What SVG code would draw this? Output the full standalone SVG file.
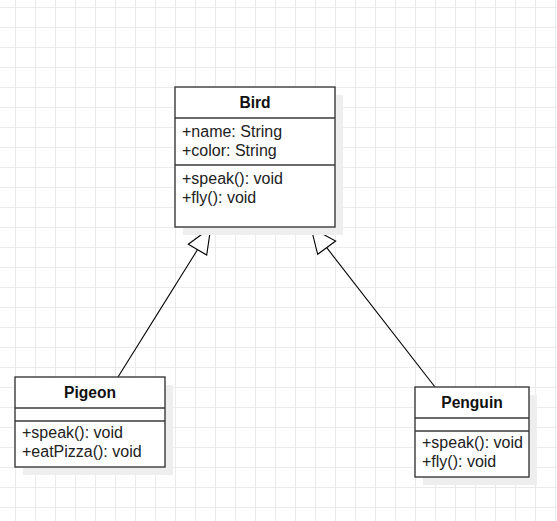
<svg xmlns="http://www.w3.org/2000/svg" width="557" height="521" viewBox="0 0 557 521">
<defs>
<pattern id="grid" x="15" y="7" width="20" height="20" patternUnits="userSpaceOnUse">
<path d="M0.5 0 V20 M0 0.5 H20" fill="none" stroke="#ebebeb" stroke-width="1"/>
</pattern>
</defs>
<style>
.box{fill:#ffffff;stroke:#3a3a3a;stroke-width:1.4}
.sh{fill:#eeeeee}
.sep{stroke:#3a3a3a;stroke-width:1.4}
.t{font-family:"Liberation Sans",Arial,sans-serif;font-size:16px;fill:#222222}
.h{font-family:"Liberation Sans",Arial,sans-serif;font-size:15.6px;font-weight:bold;fill:#111111;text-anchor:middle}
.c{fill:none;stroke:#000000;stroke-width:1.1}
.tri{fill:#ffffff;stroke:#000000;stroke-width:1.1;stroke-linejoin:miter}
</style>
<rect width="557" height="521" fill="#ffffff"/>
<rect x="-5" y="-13" width="580" height="560" fill="url(#grid)"/>
<g id="connectors">
<line class="c" x1="118" y1="377" x2="197.5" y2="249.7"/>
<polygon class="tri" points="210.7,227.7 188.3,244.3 206.7,255"/>
<line class="c" x1="435" y1="387" x2="326.7" y2="247.7"/>
<polygon class="tri" points="311,227.7 335.7,241 317.7,254.3"/>
</g>
<g id="bird">
<rect class="sh" x="183" y="95" width="160" height="140"/>
<rect class="box" x="175" y="87" width="160" height="140"/>
<line class="sep" x1="175" y1="118" x2="335" y2="118"/>
<line class="sep" x1="175" y1="165" x2="335" y2="165"/>
<text class="h" x="255" y="107.5">Bird</text>
<text class="t" x="182" y="137">+name: String</text>
<text class="t" x="182" y="155.7">+color: String</text>
<text class="t" x="182" y="184">+speak(): void</text>
<text class="t" x="182" y="202.7">+fly(): void</text>
</g>
<g id="pigeon">
<rect class="sh" x="23" y="385" width="150" height="90"/>
<rect class="box" x="15" y="377" width="150" height="90"/>
<line class="sep" x1="15" y1="408" x2="165" y2="408"/>
<line class="sep" x1="15" y1="421" x2="165" y2="421"/>
<text class="h" x="90" y="397.5">Pigeon</text>
<text class="t" x="22" y="438.3">+speak(): void</text>
<text class="t" x="22" y="457">+eatPizza(): void</text>
</g>
<g id="penguin">
<rect class="sh" x="423" y="395" width="114" height="90"/>
<rect class="box" x="415" y="387" width="114" height="90"/>
<line class="sep" x1="415" y1="418" x2="529" y2="418"/>
<line class="sep" x1="415" y1="431" x2="529" y2="431"/>
<text class="h" x="472" y="407.5">Penguin</text>
<text class="t" x="422" y="448.3">+speak(): void</text>
<text class="t" x="422" y="467">+fly(): void</text>
</g>
</svg>
